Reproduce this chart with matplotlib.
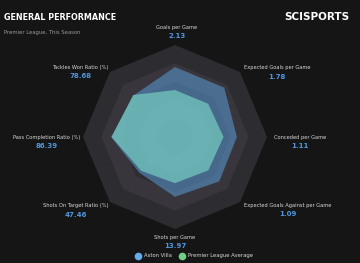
import numpy as np
import matplotlib.pyplot as plt
from matplotlib.lines import Line2D

# metrics, clockwise from the top
metrics = ["Goals per Game", "Expected Goals per Game", "Conceded per Game",
           "Expected Goals Against per Game", "Shots per Game",
           "Shots On Target Ratio (%)", "Pass Completion Ratio (%)",
           "Tackles Won Ratio (%)"]
villa = [2.13, 1.78, 1.11, 1.09, 13.97, 47.46, 86.39, 78.68]
league_avg = [1.43, 1.20, 0.87, 0.82, 10.8, 46.0, 86.2, 79.0]
scale_lo = [0, 0, 0, 0, 0, 20, 60, 50]
scale_hi = [2.8, 2.35, 1.65, 1.6, 21.5, 70, 98, 95]

bg = "#151515"
ring_cols = ["#2d2c31", "#38363c"]
villa_col = "#5b9bd5"
league_col = "#7fe0cc"
value_col = "#4f95e0"

# text positions in radar units (radius 1 = outer ring)
label_xy = [(0.02, 1.19), (1.11, 0.75), (1.36, 0.0), (1.23, -0.74),
            (0.0, -1.09), (-1.08, -0.75), (-1.40, 0.0), (-1.03, 0.76)]

fig = plt.figure(figsize=(3.6, 2.63), dpi=100, facecolor=bg)
ax = fig.add_axes([0, 0, 1, 1])
ax.set_facecolor(bg)
ax.set_xlim(-175 / 92, 185 / 92)
ax.set_ylim(-126 / 92, 137 / 92)
ax.axis("off")

n = len(metrics)
ang = np.pi / 2 - np.arange(n) * 2 * np.pi / n


def poly(r):
    r = np.asarray(r)
    return r * np.cos(ang), r * np.sin(ang)


# background rings, outer first
for k, rr in enumerate([1.0, 0.8, 0.6, 0.4, 0.2]):
    x, y = poly(np.full(n, rr))
    ax.fill(x, y, color=ring_cols[k % 2], lw=0, zorder=1)


def norm(vals):
    v = np.array(vals, float)
    lo = np.array(scale_lo, float)
    hi = np.array(scale_hi, float)
    return (v - lo) / (hi - lo)


x, y = poly(norm(villa))
ax.fill(x, y, color=villa_col, alpha=0.55, lw=0, zorder=2)
x, y = poly(norm(league_avg))
ax.fill(x, y, color=league_col, alpha=0.6, lw=0, zorder=3)

for m, v, (lx, ly) in zip(metrics, villa, label_xy):
    ax.text(lx, ly, m, color="#d8d8d8", fontsize=3.7, ha="center", va="center")
    ax.text(lx, ly - 0.095, f"{v:.2f}", color=value_col, fontsize=5,
            fontweight="bold", ha="center", va="center")

fig.text(0.012, 0.935, "GENERAL PERFORMANCE", color="white", fontsize=5.8,
         fontweight="heavy", ha="left", va="center")
fig.text(0.012, 0.875, "Premier League, This Season", color="#9a9a9a",
         fontsize=3.8, ha="left", va="center")
fig.text(0.97, 0.935, "SCISPORTS", color="white", fontsize=7.5,
         fontweight="heavy", ha="right", va="center")

handles = [Line2D([], [], ls="", marker="o", ms=5.5, mfc="#66aaee", mec="none"),
           Line2D([], [], ls="", marker="o", ms=5.5, mfc="#6fcf80", mec="none")]
ax.legend(handles, ["Aston Villa", "Premier League Average"], loc="center",
          bbox_to_anchor=(0.535, 0.027), ncol=2, frameon=False, fontsize=3.8,
          labelcolor="#d8d8d8", handletextpad=0.1, columnspacing=1.0)

fig.savefig("out.png", dpi=100, facecolor=bg)
